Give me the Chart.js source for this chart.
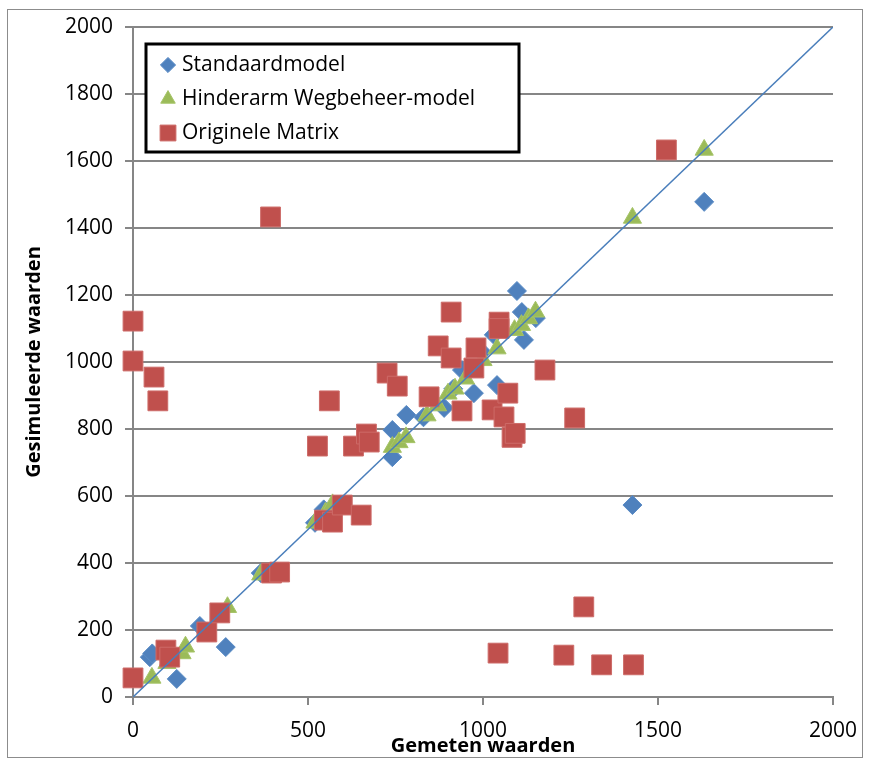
<!DOCTYPE html>
<html>
<head>
<meta charset="utf-8">
<script src="https://cdn.jsdelivr.net/npm/chart.js@4/dist/chart.umd.min.js"></script>
<style>
  html, body { margin: 0; padding: 0; background: #fff; }
  #wrap { width: 870px; height: 762px; }
</style>
</head>
<body>
<div id="wrap"><canvas id="chart" width="870" height="762"></canvas></div>
<script>
// Gemeten (x) en gesimuleerde (y) waarden per model
const standaardX = [48, 55, 125, 191, 265, 365, 520, 545, 741, 741, 781, 830, 889, 915, 940, 974, 997, 1031, 1040, 1097, 1111, 1117, 1151, 1427, 1632];
const standaardY = [119, 130, 54, 212, 149, 370, 520, 560, 716, 797, 842, 835, 863, 920, 976, 907, 1030, 1081, 931, 1212, 1149, 1066, 1131, 573, 1478];

const hinderarmX = [54, 97, 140, 150, 270, 365, 520, 550, 570, 741, 760, 780, 840, 870, 900, 920, 950, 975, 1000, 1040, 1090, 1110, 1130, 1150, 1427, 1632];
const hinderarmY = [57, 101, 130, 150, 268, 365, 520, 550, 575, 746, 760, 775, 840, 870, 905, 920, 950, 975, 1005, 1040, 1095, 1110, 1130, 1150, 1430, 1633];

const origineelX = [0, 0, 60, 71, 393, 0, 94, 105, 211, 248, 396, 419, 547, 570, 598, 652, 527, 561, 630, 667, 675, 726, 755, 846, 872, 909, 909, 940, 974, 980, 1046, 1046, 1026, 1060, 1071, 1083, 1092, 1177, 1262, 1043, 1231, 1339, 1430, 1288, 1524];
const origineelY = [1122, 1003, 955, 884, 1433, 57, 140, 119, 194, 251, 370, 373, 528, 522, 573, 543, 749, 884, 749, 785, 761, 967, 928, 896, 1048, 1012, 1149, 854, 982, 1042, 1119, 1100, 857, 836, 907, 775, 787, 976, 833, 131, 125, 96, 96, 269, 1633];

const lijnX = [0, 2000];
const lijnY = [0, 2000];

const xTicks = [0, 500, 1000, 1500, 2000];

const toPoints = (xs, ys) => xs.map((x, i) => ({ x: x, y: ys[i] }));

const FONT = '"Open Sans", "Liberation Sans", sans-serif';

// legenda als kader binnen het plotgebied
const legendBox = {
  id: 'legendBox',
  afterDraw(chart) {
    const ctx = chart.ctx;
    const x0 = 146, y0 = 44, w = 373, h = 108;
    ctx.save();
    ctx.fillStyle = '#fff';
    ctx.fillRect(x0, y0, w, h);
    ctx.lineWidth = 3;
    ctx.strokeStyle = '#000';
    ctx.strokeRect(x0, y0, w, h);
    ctx.font = '21px ' + FONT;
    ctx.textBaseline = 'middle';
    const rows = chart.data.datasets.filter(d => d.label);
    rows.forEach((ds, i) => {
      const cy = y0 + 21 + i * 34;
      ctx.fillStyle = ds.backgroundColor;
      ctx.strokeStyle = ds.borderColor;
      ctx.lineWidth = 1;
      Chart.helpers.drawPoint(ctx, { pointStyle: ds.pointStyle, radius: ds.pointRadius * 0.8, borderWidth: 1 }, x0 + 22, cy);
      ctx.fillStyle = '#000';
      ctx.fillText(ds.label, x0 + 36, cy);
    });
    ctx.restore();
  }
};

const frame = {
  id: 'frame',
  beforeDraw(chart) {
    const ctx = chart.ctx;
    ctx.save();
    ctx.fillStyle = '#fff';
    ctx.fillRect(0, 0, chart.width, chart.height);
    ctx.strokeStyle = '#8c8c8c';
    ctx.lineWidth = 1;
    ctx.strokeRect(7.5, 9.5, 855, 748);
    ctx.restore();
  }
};

const ctx = document.getElementById('chart').getContext('2d');
const chart = new Chart(ctx, {
  type: 'scatter',
  data: {
    datasets: [
      {
        label: '',
        data: toPoints(lijnX, lijnY),
        showLine: true,
        borderColor: '#4a7ebb',
        borderWidth: 1.5,
        pointRadius: 0,
        order: 0
      },
      {
        label: 'Standaardmodel',
        data: toPoints(standaardX, standaardY),
        pointStyle: 'rectRot',
        pointRadius: 9.5,
        backgroundColor: '#4f81bd',
        borderColor: '#5b8cc6',
        borderWidth: 1,
        clip: false,
        order: 3
      },
      {
        label: 'Hinderarm Wegbeheer-model',
        data: toPoints(hinderarmX, hinderarmY),
        pointStyle: 'triangle',
        pointRadius: 10.5,
        backgroundColor: '#9bbb59',
        borderColor: '#a6c468',
        borderWidth: 1,
        clip: false,
        order: 2
      },
      {
        label: 'Originele Matrix',
        data: toPoints(origineelX, origineelY),
        pointStyle: 'rect',
        pointRadius: 14,
        backgroundColor: '#c0504d',
        borderColor: '#cd6b68',
        borderWidth: 1,
        clip: false,
        order: 1
      }
    ]
  },
  options: {
    responsive: false,
    animation: false,
    layout: { padding: { left: 10, right: 35, top: 27, bottom: 4 } },
    plugins: {
      legend: { display: false },
      tooltip: { enabled: false }
    },
    scales: {
      x: {
        type: 'linear',
        min: 0,
        max: 2000,
        afterBuildTicks: axis => { axis.ticks = xTicks.map(v => ({ value: v })); },
        afterFit: axis => { axis.height = 61; },
        border: { color: '#868686', width: 2 },
        grid: { drawOnChartArea: false, drawTicks: true, tickLength: 8, color: '#868686', lineWidth: 2 },
        ticks: { color: '#000', font: { family: FONT, size: 21 }, padding: 13, maxRotation: 0, callback: v => String(v) },
        title: {
          display: true,
          text: 'Gemeten waarden',
          color: '#000',
          font: { family: FONT, size: 20, weight: 'bold' },
          padding: { top: 0, bottom: 0 }
        }
      },
      y: {
        type: 'linear',
        min: 0,
        max: 2000,
        afterFit: axis => { axis.width = 123; },
        border: { color: '#868686', width: 2 },
        grid: { drawOnChartArea: true, drawTicks: true, tickLength: 8, color: '#868686', lineWidth: 2 },
        ticks: { stepSize: 200, color: '#000', font: { family: FONT, size: 21 }, padding: 12, callback: v => String(v) },
        title: {
          display: true,
          text: 'Gesimuleerde waarden',
          color: '#000',
          font: { family: FONT, size: 20, weight: 'bold' },
          padding: { top: 12, bottom: 0 }
        }
      }
    }
  },
  plugins: [frame, legendBox]
});
</script>
</body>
</html>
